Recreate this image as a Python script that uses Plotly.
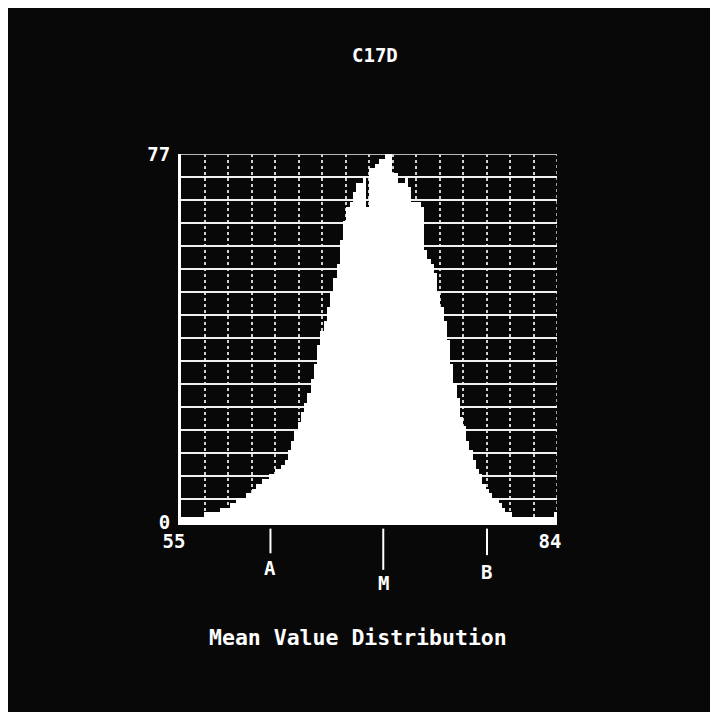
import plotly.graph_objects as go

# ---- data ----
chart_title = "C17D"
caption = "Mean Value Distribution"
bin_start = 55.0
bin_width = 0.25
counts = [
    1, 1, 1, 1, 1, 1, 1, 2, 2, 2,
    2, 2, 3, 3, 3, 4, 4, 5, 5, 5,
    6, 6, 7, 8, 8, 9, 9, 10, 10, 11,
    11, 12, 13, 15, 17, 19, 21, 23, 25, 27,
    30, 33, 37, 40, 42, 45, 48, 51, 54, 59,
    63, 66, 67, 69, 71, 71, 72, 66, 74, 74,
    75, 76, 76, 77, 77, 73, 73, 71, 71, 72,
    70, 67, 67, 67, 66, 57, 55, 54, 52, 48,
    45, 42, 38, 33, 29, 26, 22, 20, 17, 15,
    13, 11, 10, 8, 7, 6, 5, 5, 4, 3,
    2, 2, 1, 1, 1, 1, 1, 1, 1, 1,
    1, 1, 1, 1, 1, 2,
]
x_min, x_max = 55, 84
y_min, y_max = 0, 77
grid_divisions = 16
x_tick_labels = ["55"] + [""] * (grid_divisions - 1) + ["84"]
y_tick_labels = ["0"] + [""] * (grid_divisions - 1) + ["77"]
marker_labels = ["A", "M", "B"]
marker_values = [61.9, 70.6, 78.6]

# ---- derived positions ----
bin_centers = [bin_start + bin_width * (i + 0.5) for i in range(len(counts))]
x_grid = [x_min + (x_max - x_min) * k / grid_divisions for k in range(grid_divisions + 1)]
y_grid = [y_min + (y_max - y_min) * k / grid_divisions for k in range(grid_divisions + 1)]

FONT = "DejaVu Sans Mono"
fnt = dict(family=FONT, size=19, color="white", weight="bold")

fig = go.Figure()
fig.add_trace(go.Bar(
    x=bin_centers, y=counts, width=bin_width,
    marker=dict(color="white", line=dict(width=0)),
    hoverinfo="skip",
))

# edge grid lines (top and right)
fig.add_shape(type="line", xref="x", yref="y", x0=x_min, x1=x_max, y0=y_max, y1=y_max,
              line=dict(color="#f0f0f0", width=1.5), layer="below")
fig.add_shape(type="line", xref="x", yref="y", x0=x_max, x1=x_max, y0=y_min, y1=y_max,
              line=dict(color="#d0d0d0", width=1.5, dash="dot"), layer="below")

# marker ticks and labels (A, M, B)
tick_len = {"A": -0.085, "M": -0.13, "B": -0.09}
label_y = {"A": -0.125, "M": -0.165, "B": -0.135}
for lab, val in zip(marker_labels, marker_values):
    fig.add_shape(type="line", xref="x", yref="paper",
                  x0=val, x1=val, y0=-0.018, y1=tick_len[lab],
                  line=dict(color="white", width=2))
    fig.add_annotation(x=val, y=label_y[lab], xref="x", yref="paper",
                       text=lab, showarrow=False, font=fnt,
                       xanchor="center", yanchor="middle")

fig.add_annotation(x=0.516, y=1.27, xref="paper", yref="paper",
                   text=chart_title, showarrow=False, font=fnt,
                   xanchor="center", yanchor="middle")
fig.add_annotation(x=0.47, y=-0.315, xref="paper", yref="paper",
                   text=caption, showarrow=False,
                   font=dict(family=FONT, size=21.5, color="white", weight="bold"),
                   xanchor="center", yanchor="middle")

fig.update_layout(
    width=702, height=704,
    margin=dict(l=173, r=153, t=146, b=190),
    paper_bgcolor="#080808", plot_bgcolor="#080808",
    showlegend=False, bargap=0,
    xaxis=dict(range=[x_min, x_max], tickvals=x_grid, ticktext=x_tick_labels,
               showgrid=True, gridcolor="#d0d0d0", gridwidth=1.5, griddash="dot",
               showline=True, linecolor="white", linewidth=3,
               zeroline=False, ticks="", tickfont=fnt, tickangle=0,
               ticklabelshift=-7),
    yaxis=dict(range=[y_min, y_max], tickvals=y_grid, ticktext=y_tick_labels,
               showgrid=True, gridcolor="#f0f0f0", gridwidth=1.5,
               showline=True, linecolor="white", linewidth=3,
               zeroline=False, ticks="", tickfont=fnt, ticklabelstandoff=4),
)

fig.write_html("out.html")
